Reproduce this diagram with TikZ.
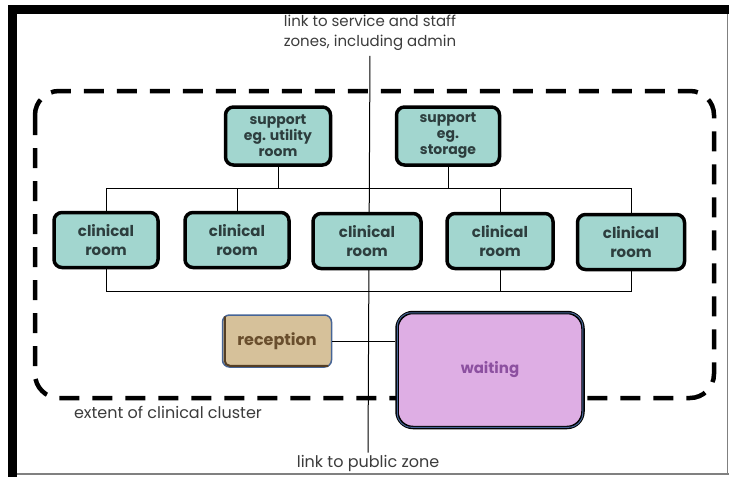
\documentclass[tikz,border=0pt]{standalone}
\usepackage{fontspec}
\setmainfont{Poppins}
\usepackage{tikz}

\definecolor{roomteal}{RGB}{162,214,207}
\definecolor{roomtext}{RGB}{45,62,62}
\definecolor{recfill}{RGB}{214,193,154}
\definecolor{rectext}{RGB}{105,78,45}
\definecolor{recedge}{RGB}{70,100,150}
\definecolor{waitfill}{RGB}{222,174,228}
\definecolor{waittext}{RGB}{140,80,160}
\definecolor{notetext}{RGB}{60,60,60}

\begin{document}
\begin{tikzpicture}[x=1pt,y=-1pt,
    room/.style={draw=black, line width=3.5pt, fill=roomteal, rounded corners=8pt,
        minimum width=104pt, minimum height=55pt, align=center, inner sep=0pt,
        text=roomtext, font=\fontsize{15}{19}\selectfont\bfseries},
    note/.style={text=notetext, align=center, inner sep=0pt,
        font=\fontsize{16}{20}\selectfont},
    link/.style={black, line width=1pt}]
\useasboundingbox (0,0) rectangle (729,477);
% frame
\fill[white] (0,0) rectangle (729,477);
\fill[black] (8,5) rectangle (17,477);
\fill[black] (8,5) rectangle (729,14);
\draw[gray, line width=1.5pt] (17,474) -- (729,474);
\draw[gray, line width=1pt] (727,14) -- (727,474);
% extent of the cluster
\draw[line width=4.5pt, dash pattern=on 20pt off 13pt, rounded corners=24pt]
    (35,91) rectangle (714,398);
\node[note] (extent) at (168,412) {extent of clinical cluster};
% labels at both ends of the spine
\node[note, font=\fontsize{15}{20}\selectfont] (service) at (370,33) {link to service and staff\\zones, including admin};
\node[note] (public) at (368,463) {link to public zone};
\draw[link, shorten <=5pt, shorten >=2pt] (service.south) -- (public.north);
% support rooms
\node[room, minimum width=105pt, minimum height=58pt, font=\fontsize{14}{16}\selectfont\bfseries]
    (util) at (278,136) {support\\eg. utility\\room};
\node[room, minimum width=103pt, minimum height=58pt, font=\fontsize{14}{16}\selectfont\bfseries]
    (store) at (448,136) {support\\eg.\\storage};
% clinical rooms
\node[room] (clinA) at (106,240) {clinical\\room};
\node[room] (clinB) at (237,240) {clinical\\room};
\node[room, minimum width=108pt] (clinC) at (367,241) {clinical\\room};
\node[room, minimum width=106pt] (clinD) at (500,241) {clinical\\room};
\node[room, minimum width=107pt] (clinE) at (631,242) {clinical\\room};
\coordinate (bustop) at (0,188);
\coordinate (busbot) at (0,291);
% upper corridor
\draw[link] (clinA.north) -- (clinA.north |- bustop) -- (clinE.north |- bustop) -- (clinE.north);
\foreach \r in {clinB,clinD}
    \draw[link] (\r.north) -- (\r.north |- bustop);
\draw[link] (util.south) -- (util.south |- bustop);
\draw[link] (store.south) -- (store.south |- bustop);
% lower corridor
\draw[link] (clinA.south) -- (clinA.south |- busbot) -- (clinE.south |- busbot) -- (clinE.south);
\draw[link] (clinD.south) -- (clinD.south |- busbot);
% front of house
\node[draw=recedge, line width=1.5pt, fill=recfill, rounded corners=7pt,
    minimum width=109pt, minimum height=52pt, inner sep=0pt, text=rectext,
    font=\fontsize{16}{19}\selectfont\bfseries] (recep) at (277,341) {reception};
\draw[rectext!80!black, line width=2pt, rounded corners=5pt]
    ([shift={(3,2)}]recep.north west) -- ([shift={(3,-2)}]recep.south west) -- ([shift={(-4,-2)}]recep.south east);
\node[draw=black, line width=3.5pt, fill=waitfill, rounded corners=16pt,
    minimum width=186pt, minimum height=115pt, inner sep=0pt, text=waittext,
    font=\fontsize{15}{19}\selectfont\bfseries] (wait) at (490,370) {waiting};
\draw[recedge, line width=1pt, rounded corners=14pt]
    ([shift={(2,2)}]wait.north west) rectangle ([shift={(-2,-2)}]wait.south east);
\draw[link] (recep.east) -- (wait.west |- recep.east);
\end{tikzpicture}
\end{document}
